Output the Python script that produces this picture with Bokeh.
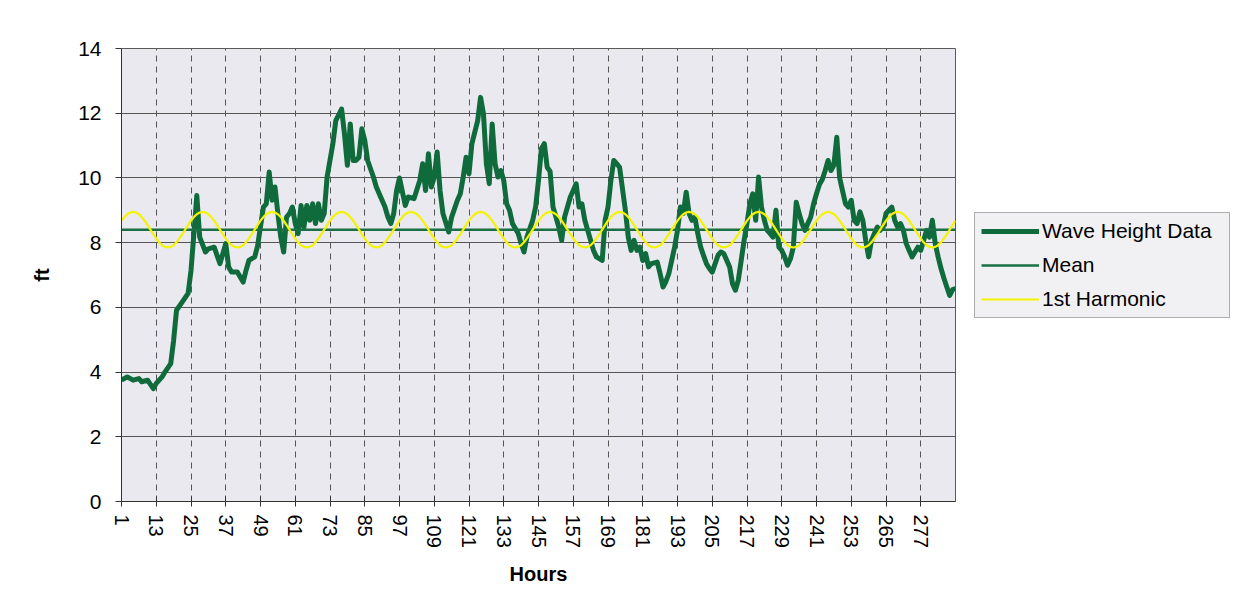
from bokeh.plotting import figure
from bokeh.models import FixedTicker, Legend, LegendItem, Range1d, ColumnDataSource
from bokeh.embed import file_html
from bokeh.resources import INLINE

# ---------------- data ----------------
hours = [
    1, 3, 5, 7, 8, 10, 12, 13, 15, 16, 18, 19, 20, 22, 24, 25, 26, 27, 28, 30,
    31, 33, 35, 37, 38, 39, 41, 43, 44, 45, 47, 48, 50, 51, 52, 53, 54, 55, 56, 57,
    58, 59, 60, 61, 62, 63, 64, 65, 66, 67, 68, 69, 70, 71, 72, 74, 75, 77, 78, 79,
    80, 81, 82, 83, 84, 85, 86, 88, 89, 90, 92, 93, 94, 95, 96, 97, 99, 100, 102, 104,
    105, 106, 107, 108, 109, 110, 111, 112, 114, 115, 117, 118, 119, 120, 121, 122, 124, 125, 126, 127,
    128, 129, 130, 131, 132, 133, 134, 135, 136, 138, 139, 140, 141, 143, 144, 145, 146, 147, 148, 149,
    150, 151, 152, 153, 154, 155, 156, 157, 158, 159, 160, 161, 162, 164, 165, 167, 168, 169, 170, 171,
    172, 173, 175, 176, 177, 178, 179, 180, 181, 182, 183, 184, 186, 187, 188, 189, 190, 191, 192, 193,
    194, 195, 196, 197, 198, 199, 200, 201, 202, 203, 204, 205, 206, 207, 208, 209, 211, 212, 213, 214,
    215, 216, 217, 218, 219, 220, 221, 222, 223, 224, 225, 226, 227, 228, 229, 230, 231, 232, 233, 234,
    235, 236, 237, 238, 239, 240, 241, 242, 243, 244, 245, 246, 247, 248, 249, 250, 251, 252, 253, 254,
    255, 256, 257, 258, 259, 260, 261, 262, 263, 264, 265, 266, 267, 268, 269, 270, 271, 272, 273, 274,
    276, 277, 278, 279, 280, 281, 282, 283, 284, 285, 286, 287, 288, 289,
]
wave_height_ft = [
    3.75, 3.85, 3.75, 3.80, 3.70, 3.75, 3.49, 3.65, 3.85, 4.00, 4.26, 4.98, 5.91, 6.17, 6.43, 7.14, 8.28, 9.46, 8.17, 7.71,
    7.81, 7.86, 7.35, 7.97, 7.25, 7.09, 7.09, 6.78, 7.14, 7.45, 7.56, 7.90, 9.10, 9.20, 10.18, 9.31, 9.72, 8.90, 8.17, 7.71,
    8.79, 8.90, 9.10, 8.59, 8.28, 9.15, 8.48, 9.15, 8.69, 9.20, 8.59, 9.20, 8.69, 8.90, 10.03, 11.06, 11.77, 12.13, 11.36, 10.39,
    11.67, 10.54, 10.54, 10.64, 11.52, 11.16, 10.54, 10.03, 9.72, 9.51, 9.10, 8.79, 8.59, 8.90, 9.61, 10.00, 9.15, 9.41, 9.36, 9.92,
    10.44, 9.61, 10.75, 9.72, 10.03, 10.80, 9.61, 8.90, 8.33, 8.79, 9.31, 9.51, 10.03, 10.64, 10.13, 11.06, 11.77, 12.49, 11.98, 10.44,
    9.82, 11.67, 10.44, 10.03, 10.23, 9.92, 9.20, 9.00, 8.59, 8.28, 7.97, 7.71, 8.17, 8.69, 9.10, 9.92, 10.90, 11.06, 10.33, 10.20,
    9.10, 8.80, 8.48, 8.07, 8.79, 9.10, 9.41, 9.61, 9.82, 9.10, 9.20, 8.69, 8.38, 7.76, 7.56, 7.45, 8.69, 9.10, 9.92, 10.54,
    10.44, 10.33, 9.00, 8.17, 7.76, 8.07, 7.76, 7.86, 7.45, 7.66, 7.25, 7.35, 7.40, 7.04, 6.63, 6.80, 7.04, 7.45, 7.86, 8.38,
    9.10, 8.90, 9.56, 8.90, 8.69, 8.79, 8.28, 7.86, 7.60, 7.35, 7.20, 7.09, 7.35, 7.61, 7.71, 7.66, 7.25, 6.73, 6.53, 6.84,
    7.45, 8.07, 8.60, 9.20, 9.51, 8.69, 10.03, 9.10, 8.69, 8.38, 8.28, 8.17, 9.00, 7.86, 7.76, 7.56, 7.30, 7.50, 7.86, 9.25,
    8.90, 8.59, 8.38, 8.59, 8.79, 9.20, 9.51, 9.80, 9.95, 10.23, 10.54, 10.23, 10.40, 11.26, 10.00, 9.60, 9.20, 9.10, 9.31, 8.69,
    8.59, 8.95, 8.69, 8.07, 7.56, 8.07, 8.28, 8.48, 8.38, 8.48, 8.90, 9.00, 9.10, 8.69, 8.48, 8.59, 8.38, 7.97, 7.76, 7.56,
    7.86, 7.76, 8.07, 8.38, 8.17, 8.69, 7.97, 7.56, 7.20, 6.90, 6.63, 6.37, 6.55, 6.58,
]

mean_ft = 8.40

harmonic_hours = list(range(1, 290))
harmonic_ft = [
    8.68, 8.79, 8.88, 8.93, 8.95, 8.93, 8.88, 8.79, 8.68, 8.54, 8.40, 8.26, 8.13, 8.01, 7.92, 7.87, 7.85, 7.87, 7.92, 8.01, 8.13, 8.26, 8.40, 8.54,
    8.68, 8.79, 8.88, 8.93, 8.95, 8.93, 8.88, 8.79, 8.68, 8.54, 8.40, 8.26, 8.13, 8.01, 7.92, 7.87, 7.85, 7.87, 7.92, 8.01, 8.13, 8.26, 8.40, 8.54,
    8.68, 8.79, 8.88, 8.93, 8.95, 8.93, 8.88, 8.79, 8.68, 8.54, 8.40, 8.26, 8.13, 8.01, 7.92, 7.87, 7.85, 7.87, 7.92, 8.01, 8.13, 8.26, 8.40, 8.54,
    8.68, 8.79, 8.88, 8.93, 8.95, 8.93, 8.88, 8.79, 8.68, 8.54, 8.40, 8.26, 8.13, 8.01, 7.92, 7.87, 7.85, 7.87, 7.92, 8.01, 8.13, 8.26, 8.40, 8.54,
    8.68, 8.79, 8.88, 8.93, 8.95, 8.93, 8.88, 8.79, 8.68, 8.54, 8.40, 8.26, 8.13, 8.01, 7.92, 7.87, 7.85, 7.87, 7.92, 8.01, 8.13, 8.26, 8.40, 8.54,
    8.68, 8.79, 8.88, 8.93, 8.95, 8.93, 8.88, 8.79, 8.68, 8.54, 8.40, 8.26, 8.13, 8.01, 7.92, 7.87, 7.85, 7.87, 7.92, 8.01, 8.13, 8.26, 8.40, 8.54,
    8.68, 8.79, 8.88, 8.93, 8.95, 8.93, 8.88, 8.79, 8.68, 8.54, 8.40, 8.26, 8.13, 8.01, 7.92, 7.87, 7.85, 7.87, 7.92, 8.01, 8.13, 8.26, 8.40, 8.54,
    8.68, 8.79, 8.88, 8.93, 8.95, 8.93, 8.88, 8.79, 8.68, 8.54, 8.40, 8.26, 8.13, 8.01, 7.92, 7.87, 7.85, 7.87, 7.92, 8.01, 8.13, 8.26, 8.40, 8.54,
    8.68, 8.79, 8.88, 8.93, 8.95, 8.93, 8.88, 8.79, 8.68, 8.54, 8.40, 8.26, 8.13, 8.01, 7.92, 7.87, 7.85, 7.87, 7.92, 8.01, 8.13, 8.26, 8.40, 8.54,
    8.68, 8.79, 8.88, 8.93, 8.95, 8.93, 8.88, 8.79, 8.68, 8.54, 8.40, 8.26, 8.13, 8.01, 7.92, 7.87, 7.85, 7.87, 7.92, 8.01, 8.13, 8.26, 8.40, 8.54,
    8.68, 8.79, 8.88, 8.93, 8.95, 8.93, 8.88, 8.79, 8.68, 8.54, 8.40, 8.26, 8.13, 8.01, 7.92, 7.87, 7.85, 7.87, 7.92, 8.01, 8.13, 8.26, 8.40, 8.54,
    8.68, 8.79, 8.88, 8.93, 8.95, 8.93, 8.88, 8.79, 8.68, 8.54, 8.40, 8.26, 8.13, 8.01, 7.92, 7.87, 7.85, 7.87, 7.92, 8.01, 8.13, 8.26, 8.40, 8.54,
    8.68,
]

x_tick_hours = [1, 13, 25, 37, 49, 61, 73, 85, 97, 109, 121, 133, 145, 157, 169, 181, 193, 205, 217, 229, 241, 253, 265, 277]
y_ticks = [0, 2, 4, 6, 8, 10, 12, 14]

series_names = ["Wave Height Data", "Mean", "1st Harmonic"]

# ---------------- figure ----------------
FONT = "Liberation Sans"
GREEN = "#0f6a3c"
MEAN_GREEN = "#1a7044"
YELLOW = "#f4f400"

p = figure(
    frame_width=834, frame_height=453,
    min_border_left=121, min_border_right=280, min_border_top=48, min_border_bottom=113,
    x_range=Range1d(harmonic_hours[0], harmonic_hours[-1]),
    y_range=Range1d(y_ticks[0], y_ticks[-1]),
    output_backend="svg", toolbar_location=None,
    background_fill_color="#e9e9ef", border_fill_color="white",
)

p.outline_line_color = "#5a5a5a"
p.outline_line_width = 1

# grids
p.xgrid.ticker = FixedTicker(ticks=x_tick_hours)
p.xgrid.grid_line_color = "#555555"
p.xgrid.grid_line_dash = "6 5"
p.xgrid.grid_line_width = 1
p.ygrid.ticker = FixedTicker(ticks=y_ticks)
p.ygrid.grid_line_color = "#555555"
p.ygrid.grid_line_width = 1

# axes
p.xaxis.ticker = FixedTicker(ticks=x_tick_hours)
p.yaxis.ticker = FixedTicker(ticks=y_ticks)
p.xaxis.major_label_orientation = "vertical"
for ax in (p.xaxis, p.yaxis):
    ax.axis_line_color = "#333333"
    ax.major_tick_line_color = "#333333"
    ax.minor_tick_line_color = None
    ax.major_label_text_font = FONT
    ax.major_label_text_color = "black"
    ax.axis_label_text_font = FONT
    ax.axis_label_text_font_style = "bold"
    ax.axis_label_text_color = "black"
    ax.axis_label_text_font_size = "20px"
p.xaxis.major_label_text_font_size = "20px"
p.yaxis.major_label_text_font_size = "21px"
p.xaxis.major_tick_in = 5
p.xaxis.major_tick_out = 5
p.yaxis.major_tick_in = 0
p.yaxis.major_tick_out = 6
p.xaxis.major_label_standoff = 8
p.yaxis.major_label_standoff = 14
p.xaxis.axis_label = "Hours"
p.yaxis.axis_label = "ft"
p.xaxis.axis_label_standoff = 12
p.yaxis.axis_label_standoff = 22

# series
wave_src = ColumnDataSource(dict(hour=hours, ft=wave_height_ft))
harm_src = ColumnDataSource(dict(hour=harmonic_hours, ft=harmonic_ft))
mean_src = ColumnDataSource(dict(hour=[harmonic_hours[0], harmonic_hours[-1]], ft=[mean_ft, mean_ft]))

r_wave = p.line("hour", "ft", source=wave_src, line_color=GREEN, line_width=5, line_join="round")
r_mean = p.line("hour", "ft", source=mean_src, line_color=MEAN_GREEN, line_width=2.5)
r_harm = p.line("hour", "ft", source=harm_src, line_color=YELLOW, line_width=2.2)

legend = Legend(
    items=[
        LegendItem(label=series_names[0], renderers=[r_wave]),
        LegendItem(label=series_names[1], renderers=[r_mean]),
        LegendItem(label=series_names[2], renderers=[r_harm]),
    ],
    location=(19, 183),
    orientation="vertical",
    label_text_font=FONT,
    label_text_font_size="21px",
    label_text_color="black",
    glyph_width=58, glyph_height=22,
    label_height=22, label_width=181,
    label_standoff=3,
    spacing=10, padding=6, margin=0,
    border_line_color="#6a6a6a", border_line_width=1,
    background_fill_color="#f1f1f3", background_fill_alpha=1.0,
)
p.add_layout(legend, "right")

open("out.html", "w").write(file_html(p, INLINE))
